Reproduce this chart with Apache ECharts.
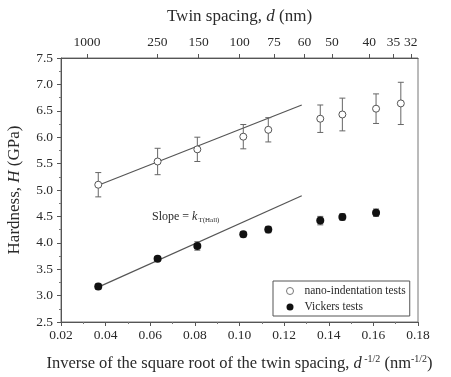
<!DOCTYPE html>
<html>
<head>
<meta charset="utf-8">
<script src="https://cdn.jsdelivr.net/npm/echarts@6/dist/echarts.min.js"></script>
<style>
html,body{margin:0;padding:0;background:#fff;}
#c{width:451px;height:377px;}
</style>
</head>
<body>
<div id="c"></div>
<script>
// ---- data ----
const nanoX = [0.0367, 0.0633, 0.0811, 0.1017, 0.1129, 0.1362, 0.1461, 0.1612, 0.1723];
const nanoH = [5.10, 5.54, 5.77, 6.01, 6.14, 6.35, 6.43, 6.54, 6.64];
const nanoErr = [0.23, 0.25, 0.23, 0.23, 0.23, 0.26, 0.31, 0.28, 0.40];
const vickX = [0.0367, 0.0633, 0.0811, 0.1017, 0.1129, 0.1362, 0.1461, 0.1612];
const vickH = [3.17, 3.70, 3.94, 4.16, 4.25, 4.42, 4.49, 4.57];
const vickErr = [0.05, 0.04, 0.08, 0.05, 0.06, 0.08, 0.06, 0.07];
const fitX = [0.0367, 0.1279];
const nanoFit = [5.09, 6.61];
const vickFit = [3.16, 4.89];
const bottomTicks = [0.02, 0.04, 0.06, 0.08, 0.10, 0.12, 0.14, 0.16, 0.18];
const twinSpacingTicks = [1000, 250, 150, 100, 75, 60, 50, 40, 35, 32];
const yTicks = [2.5, 3.0, 3.5, 4.0, 4.5, 5.0, 5.5, 6.0, 6.5, 7.0, 7.5];

const FONT = '"Liberation Serif", "DejaVu Serif", serif';
const TXT = '#2a2a2a';
const topPos = twinSpacingTicks.map(d => 1 / Math.sqrt(d));

function pairs(xs, ys) { return xs.map((x, i) => [x, ys[i]]); }
function errs(xs, ys, es) { return xs.map((x, i) => [x, ys[i] - es[i], ys[i] + es[i]]); }

function errRender(params, api) {
  const x = api.value(0), lo = api.value(1), hi = api.value(2);
  const a = api.coord([x, hi]), b = api.coord([x, lo]);
  const w = 3;
  const st = { stroke: '#666', lineWidth: 1 };
  return {
    type: 'group',
    children: [
      { type: 'line', shape: { x1: a[0], y1: a[1], x2: b[0], y2: b[1] }, style: st },
      { type: 'line', shape: { x1: a[0] - w, y1: a[1], x2: a[0] + w, y2: a[1] }, style: st },
      { type: 'line', shape: { x1: b[0] - w, y1: b[1], x2: b[0] + w, y2: b[1] }, style: st }
    ]
  };
}

const chart = echarts.init(document.getElementById('c'), null, { renderer: 'canvas' });
const axisLineStyle = { color: '#555', width: 1 };
chart.setOption({
  animation: false,
  backgroundColor: '#fff',
  textStyle: { fontFamily: FONT, color: TXT },
  grid: { left: 61, right: 33, top: 58, bottom: 55, show: true, borderColor: '#777', borderWidth: 1, containLabel: false, outerBoundsMode: 'none' },
  xAxis: [
    {
      type: 'value', position: 'bottom', min: 0.02, max: 0.18, interval: 0.02,
      axisLine: { show: true, lineStyle: axisLineStyle },
      axisTick: { show: true, length: 4, lineStyle: axisLineStyle },
      minorTick: { show: true, splitNumber: 2, length: 2, lineStyle: { color: '#777' } },
      splitLine: { show: false },
      axisLabel: { customValues: bottomTicks, formatter: v => v.toFixed(2), fontFamily: FONT, fontSize: 13.5, color: TXT, margin: 6 },
      name: '{t|Inverse of the square root of the twin spacing, }{i|d}{s| -1/2}{t| (nm}{s|-1/2}{t|)}',
      nameLocation: 'middle', nameGap: 32,
      nameTextStyle: {
        rich: {
          t: { fontFamily: FONT, fontSize: 16.5, color: TXT },
          i: { fontFamily: FONT, fontSize: 16.5, color: TXT, fontStyle: 'italic' },
          s: { fontFamily: FONT, fontSize: 10, color: TXT, verticalAlign: 'bottom', padding: [0, 0, 9, 0] }
        }
      }
    },
    {
      type: 'value', position: 'top', min: 0.02, max: 0.18,
      axisLine: { show: true, lineStyle: axisLineStyle },
      axisTick: { show: true, length: 4, customValues: topPos, lineStyle: axisLineStyle },
      splitLine: { show: false },
      axisLabel: { customValues: topPos, formatter: v => String(Math.round(1 / (v * v))), fontFamily: FONT, fontSize: 13.5, color: TXT, margin: 9 },
      name: '{t|Twin spacing, }{i|d}{t| (nm)}',
      nameLocation: 'middle', nameGap: 33,
      nameTextStyle: {
        rich: {
          t: { fontFamily: FONT, fontSize: 17, color: TXT },
          i: { fontFamily: FONT, fontSize: 17, color: TXT, fontStyle: 'italic' }
        }
      }
    }
  ],
  yAxis: {
    type: 'value', min: 2.5, max: 7.5, interval: 0.5,
    axisLine: { show: true, lineStyle: axisLineStyle },
    axisTick: { show: true, length: 4, lineStyle: axisLineStyle },
    minorTick: { show: true, splitNumber: 2, length: 2, lineStyle: { color: '#777' } },
    splitLine: { show: false },
    axisLabel: { customValues: yTicks, formatter: v => v.toFixed(1), fontFamily: FONT, fontSize: 13.5, color: TXT, margin: 8 },
    name: '{t|Hardness, }{i|H}{t| (GPa)}',
    nameLocation: 'middle', nameGap: 38, nameRotate: 90,
    nameTextStyle: {
      rich: {
        t: { fontFamily: FONT, fontSize: 17, color: TXT },
        i: { fontFamily: FONT, fontSize: 17, color: TXT, fontStyle: 'italic' }
      }
    }
  },
  legend: {
    left: 273, top: 281,
    orient: 'vertical', itemGap: 4, itemWidth: 7, itemHeight: 7,
    padding: [4, 4, 3, 13],
    borderColor: '#555', borderWidth: 1,
    textStyle: { fontFamily: FONT, fontSize: 11.5, color: TXT, padding: [0, 0, 0, 6] },
    data: [
      { name: 'nano-indentation tests', icon: 'circle', itemStyle: { color: '#fff', borderColor: '#777', borderWidth: 1 } },
      { name: 'Vickers tests', icon: 'circle', itemStyle: { color: '#111', borderWidth: 0 } }
    ]
  },
  graphic: [
    {
      type: 'text', left: 152, top: 211,
      style: {
        text: '{a|Slope = }{k|k}{s|T(Hall)}',
        rich: {
          a: { fontFamily: FONT, fontSize: 12, fill: TXT },
          k: { fontFamily: FONT, fontSize: 12, fill: TXT, fontStyle: 'italic' },
          s: { fontFamily: FONT, fontSize: 7, fill: TXT, verticalAlign: 'top', padding: [7, 0, 0, 1] }
        }
      }
    }
  ],
  series: [
    {
      name: 'nanoFit', type: 'line', xAxisIndex: 0, data: pairs(fitX, nanoFit), symbol: 'none',
      lineStyle: { color: '#555', width: 1.2 }, silent: true, z: 1
    },
    {
      name: 'vickFit', type: 'line', xAxisIndex: 0, data: pairs(fitX, vickFit), symbol: 'none',
      lineStyle: { color: '#555', width: 1.2 }, silent: true, z: 1
    },
    {
      name: 'nanoErr', type: 'custom', xAxisIndex: 0, data: errs(nanoX, nanoH, nanoErr), renderItem: errRender, z: 2
    },
    {
      name: 'vickErr', type: 'custom', xAxisIndex: 0, data: errs(vickX, vickH, vickErr), renderItem: errRender, z: 2
    },
    {
      name: 'nano-indentation tests', type: 'scatter', xAxisIndex: 0, data: pairs(nanoX, nanoH),
      symbol: 'circle', symbolSize: 7, itemStyle: { color: '#fff', borderColor: '#555', borderWidth: 1, opacity: 1 }, z: 3
    },
    {
      name: 'Vickers tests', type: 'scatter', xAxisIndex: 0, data: pairs(vickX, vickH),
      symbol: 'circle', symbolSize: 8, itemStyle: { color: '#111', opacity: 1 }, z: 3
    }
  ]
});
</script>
</body>
</html>
